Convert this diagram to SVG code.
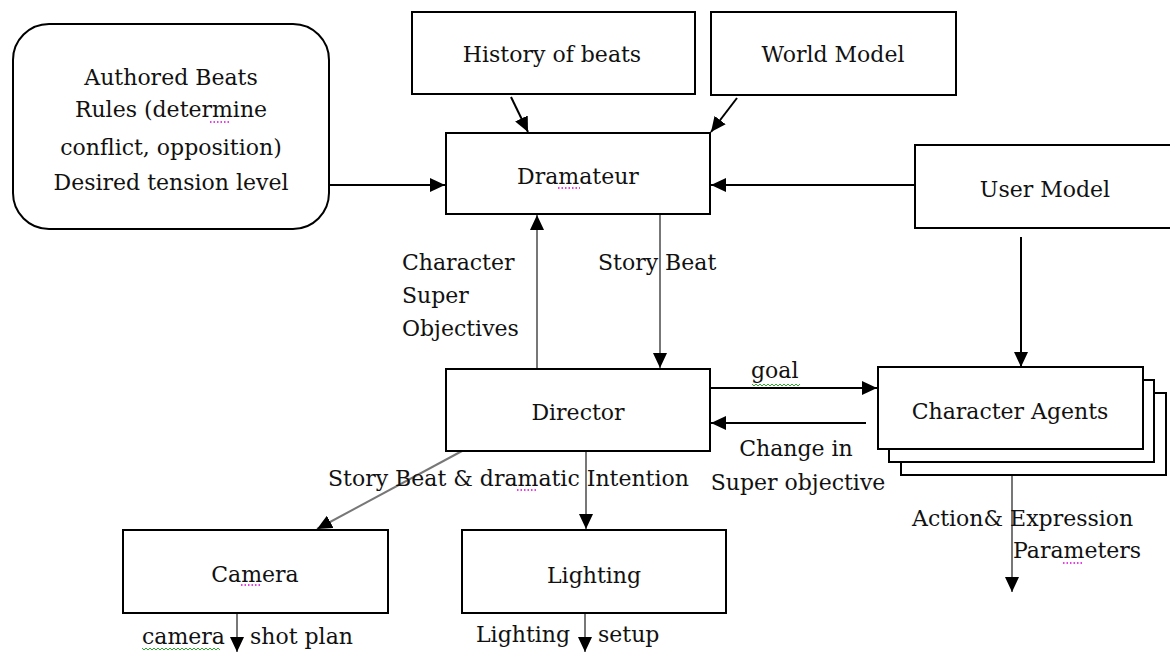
<svg xmlns="http://www.w3.org/2000/svg" width="1170" height="652" viewBox="0 0 1170 652">
<style>
.box{fill:#fff;stroke:#000;stroke-width:2}
.t{font-family:"DejaVu Serif","Liberation Serif",serif;font-size:22px;fill:#111}
.c{text-anchor:middle}
.ln{stroke:#000;stroke-width:2;fill:none}
.gr{stroke:#777;stroke-width:2;fill:none}
.sq{stroke:#3a3;stroke-width:1;fill:none}
.dt{stroke:#d0d;stroke-width:1.5;stroke-dasharray:1.5 2;fill:none}
</style>
<defs>
<marker id="ah" markerUnits="userSpaceOnUse" markerWidth="16" markerHeight="14" refX="15" refY="7" orient="auto">
<path d="M0,0 L15,7 L0,14 z" fill="#000"/>
</marker>
</defs>
<rect width="1170" height="652" fill="#fff"/>

<g id="connectors">
<line class="ln" x1="329" y1="185" x2="445" y2="185" marker-end="url(#ah)"/>
<line class="ln" x1="915" y1="185" x2="711" y2="185" marker-end="url(#ah)"/>
<line class="ln" x1="511" y1="97" x2="528" y2="132" marker-end="url(#ah)"/>
<line class="ln" x1="737" y1="98" x2="711" y2="132" marker-end="url(#ah)"/>
<line class="gr" x1="537" y1="368" x2="537" y2="215" marker-end="url(#ah)"/>
<line class="gr" x1="660" y1="214" x2="660" y2="368" marker-end="url(#ah)"/>
<line class="ln" x1="1021" y1="237" x2="1021" y2="367" marker-end="url(#ah)"/>
<line class="ln" x1="710" y1="388" x2="877" y2="388" marker-end="url(#ah)"/>
<line class="ln" x1="866" y1="423" x2="711" y2="423" marker-end="url(#ah)"/>
<line class="gr" x1="462" y1="451" x2="317" y2="529" marker-end="url(#ah)"/>
<line class="gr" x1="586" y1="451" x2="586" y2="529" marker-end="url(#ah)"/>
<line class="gr" x1="237" y1="613" x2="237" y2="652" marker-end="url(#ah)"/>
<line class="gr" x1="585" y1="613" x2="585" y2="652" marker-end="url(#ah)"/>
<line class="gr" x1="1012" y1="474" x2="1012" y2="592" marker-end="url(#ah)"/>
</g>

<g id="authored">
<rect class="box" x="13" y="24" width="316" height="205" rx="36" ry="36"/>
<text class="t c" x="171" y="85">Authored Beats</text>
<text class="t c" x="171" y="117">Rules (determine</text>
<text class="t c" x="171" y="155">conflict, opposition)</text>
<text class="t c" x="171" y="190">Desired tension level</text>
<path class="dt" d="M210,122 H231"/>
</g>

<g id="history">
<rect class="box" x="412" y="12" width="283" height="82"/>
<text class="t c" x="552" y="62">History of beats</text>
</g>

<g id="world">
<rect class="box" x="711" y="12" width="245" height="83"/>
<text class="t c" x="833" y="62">World Model</text>
</g>

<g id="dramateur">
<rect class="box" x="446" y="133" width="264" height="81"/>
<text class="t c" x="578" y="184">Dramateur</text>
<path class="dt" d="M558,188 H580"/>
</g>

<g id="usermodel">
<rect class="box" x="915" y="145" width="258" height="83"/>
<text class="t c" x="1045" y="197">User Model</text>
</g>

<g id="labels-mid">
<text class="t" x="402" y="270">Character</text>
<text class="t" x="402" y="303">Super</text>
<text class="t" x="402" y="336">Objectives</text>
<text class="t" x="598" y="270">Story Beat</text>
</g>

<g id="director">
<rect class="box" x="446" y="369" width="264" height="82"/>
<text class="t c" x="578" y="420">Director</text>
</g>

<g id="agents">
<rect class="box" x="901" y="393" width="265" height="82"/>
<rect class="box" x="889" y="380" width="265" height="82"/>
<rect class="box" x="878" y="367" width="265" height="82"/>
<text class="t c" x="1010" y="419">Character Agents</text>
</g>

<g id="edge-labels">
<text class="t" x="751" y="378">goal</text>
<path class="sq" d="M752,384 l2,2 2,-2 2,2 2,-2 2,2 2,-2 2,2 2,-2 2,2 2,-2 2,2 2,-2 2,2 2,-2 2,2 2,-2 2,2 2,-2 2,2 2,-2 2,2 2,-2 2,2 2,-2"/>
<text class="t c" x="796" y="456">Change in</text>
<text class="t c" x="798" y="490">Super objective</text>
<text class="t" x="328" y="486">Story Beat &amp; dramatic Intention</text>
<path class="dt" d="M517,490 H538"/>
<text class="t" x="912" y="526">Action&amp; Expression</text>
<text class="t" x="1013" y="558">Parameters</text>
<path class="dt" d="M1063,563 H1084"/>
</g>

<g id="camera">
<rect class="box" x="123" y="530" width="265" height="83"/>
<text class="t c" x="255" y="582">Camera</text>
<path class="dt" d="M241,585 H262"/>
<text class="t" x="142" y="644">camera</text>
<path class="sq" d="M142,648 l2,2 2,-2 2,2 2,-2 2,2 2,-2 2,2 2,-2 2,2 2,-2 2,2 2,-2 2,2 2,-2 2,2 2,-2 2,2 2,-2 2,2 2,-2 2,2 2,-2 2,2 2,-2 2,2 2,-2 2,2 2,-2 2,2 2,-2 2,2 2,-2 2,2 2,-2 2,2 2,-2 2,2 2,-2 2,2"/>
<text class="t" x="250" y="644">shot plan</text>
</g>

<g id="lighting">
<rect class="box" x="462" y="530" width="264" height="83"/>
<text class="t c" x="594" y="583">Lighting</text>
<text class="t" x="476" y="642">Lighting</text>
<text class="t" x="598" y="642">setup</text>
</g>
</svg>
